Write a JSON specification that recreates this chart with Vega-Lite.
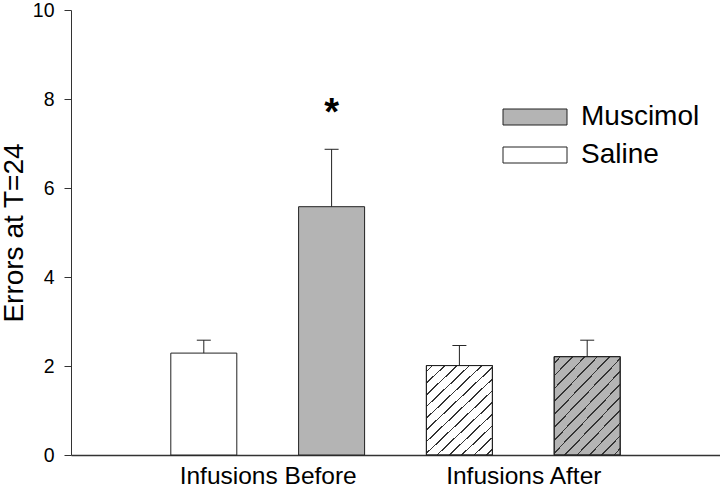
{
  "$schema": "https://vega.github.io/schema/vega-lite/v6.json",
  "width": 649,
  "height": 445,
  "autosize": {"type": "none"},
  "padding": {"left": 71, "top": 10, "right": 0, "bottom": 30},
  "background": "white",
  "config": {
    "view": {"stroke": null},
    "font": "Liberation Sans",
    "axis": {"domainColor": "#333", "tickColor": "#333", "labelColor": "#000", "titleColor": "#000", "grid": false, "labelFont": "Liberation Sans", "titleFont": "Liberation Sans", "titleFontWeight": "normal"}
  },
  "data": {"values": [
    {"group": "Before", "treatment": "Saline", "pos": 1, "mean": 2.29, "err": 2.58},
    {"group": "Before", "treatment": "Muscimol", "pos": 2, "mean": 5.58, "err": 6.87, "sig": "*"},
    {"group": "After", "treatment": "Saline", "pos": 3, "mean": 2.01, "err": 2.46},
    {"group": "After", "treatment": "Muscimol", "pos": 4, "mean": 2.21, "err": 2.58}
  ]},
  "layer": [
    {
      "mark": {"type": "bar", "width": 66, "stroke": "#222", "strokeWidth": 1, "opacity": 1},
      "encoding": {
        "x": {"field": "pos", "type": "quantitative", "scale": {"domain": [0, 5], "nice": false, "zero": false},
          "axis": {"title": null, "values": [1.5, 3.5], "ticks": false, "tickSize": 0, "labelPadding": 9, "labelFontSize": 24.5, "labelExpr": "datum.value < 2.5 ? 'Infusions Before' : 'Infusions After'", "domainWidth": 1.5, "labelFlush": false, "labelOverlap": false}},
        "y": {"field": "mean", "type": "quantitative", "scale": {"domain": [0, 10], "nice": false},
          "axis": {"title": "Errors at T=24", "values": [0, 2, 4, 6, 8, 10], "tickSize": 7, "labelPadding": 10, "labelFontSize": 19.5, "titleFontSize": 28, "titleX": -48.5, "titleY": 222.5, "titleAngle": -90, "titleBaseline": "alphabetic", "titleAlign": "center"}},
        "fill": {"field": "treatment", "type": "nominal", "scale": {"domain": ["Muscimol", "Saline"], "range": ["#b4b4b4", "#ffffff"]},
          "legend": {"title": null, "orient": "none", "legendX": 450, "legendY": 93, "symbolType": "M-3.2,-0.8H3.2V0.8H-3.2Z", "symbolSize": 400, "symbolStrokeColor": "#222", "symbolStrokeWidth": 1, "symbolOpacity": 1, "labelFontSize": 28, "labelLimit": 300, "labelOffset": 32, "rowPadding": 10, "labelFont": "Liberation Sans", "labelColor": "#000"}}
      }
    },
    {
      "transform": [{"filter": "datum.group == 'After'"}],
      "mark": {"type": "bar", "width": 66, "stroke": "#222", "strokeWidth": 1,
        "fill": {"gradient": "linear", "x1": 0, "y1": 0, "x2": 0.799, "y2": 1.141, "stops": [
          {"offset": 0, "color": "rgba(0,0,0,0)"},
          {"offset": 0.03308, "color": "rgba(0,0,0,0)"}, {"offset": 0.03308, "color": "#333"}, {"offset": 0.04385, "color": "#333"}, {"offset": 0.04385, "color": "rgba(0,0,0,0)"},
          {"offset": 0.11, "color": "rgba(0,0,0,0)"}, {"offset": 0.11, "color": "#333"}, {"offset": 0.12077, "color": "#333"}, {"offset": 0.12077, "color": "rgba(0,0,0,0)"},
          {"offset": 0.18692, "color": "rgba(0,0,0,0)"}, {"offset": 0.18692, "color": "#333"}, {"offset": 0.19769, "color": "#333"}, {"offset": 0.19769, "color": "rgba(0,0,0,0)"},
          {"offset": 0.26385, "color": "rgba(0,0,0,0)"}, {"offset": 0.26385, "color": "#333"}, {"offset": 0.27462, "color": "#333"}, {"offset": 0.27462, "color": "rgba(0,0,0,0)"},
          {"offset": 0.34077, "color": "rgba(0,0,0,0)"}, {"offset": 0.34077, "color": "#333"}, {"offset": 0.35154, "color": "#333"}, {"offset": 0.35154, "color": "rgba(0,0,0,0)"},
          {"offset": 0.41769, "color": "rgba(0,0,0,0)"}, {"offset": 0.41769, "color": "#333"}, {"offset": 0.42846, "color": "#333"}, {"offset": 0.42846, "color": "rgba(0,0,0,0)"},
          {"offset": 0.49462, "color": "rgba(0,0,0,0)"}, {"offset": 0.49462, "color": "#333"}, {"offset": 0.50538, "color": "#333"}, {"offset": 0.50538, "color": "rgba(0,0,0,0)"},
          {"offset": 0.57154, "color": "rgba(0,0,0,0)"}, {"offset": 0.57154, "color": "#333"}, {"offset": 0.58231, "color": "#333"}, {"offset": 0.58231, "color": "rgba(0,0,0,0)"},
          {"offset": 0.64846, "color": "rgba(0,0,0,0)"}, {"offset": 0.64846, "color": "#333"}, {"offset": 0.65923, "color": "#333"}, {"offset": 0.65923, "color": "rgba(0,0,0,0)"},
          {"offset": 0.72538, "color": "rgba(0,0,0,0)"}, {"offset": 0.72538, "color": "#333"}, {"offset": 0.73615, "color": "#333"}, {"offset": 0.73615, "color": "rgba(0,0,0,0)"},
          {"offset": 0.80231, "color": "rgba(0,0,0,0)"}, {"offset": 0.80231, "color": "#333"}, {"offset": 0.81308, "color": "#333"}, {"offset": 0.81308, "color": "rgba(0,0,0,0)"},
          {"offset": 0.87923, "color": "rgba(0,0,0,0)"}, {"offset": 0.87923, "color": "#333"}, {"offset": 0.89, "color": "#333"}, {"offset": 0.89, "color": "rgba(0,0,0,0)"},
          {"offset": 0.95615, "color": "rgba(0,0,0,0)"}, {"offset": 0.95615, "color": "#333"}, {"offset": 0.96692, "color": "#333"}, {"offset": 0.96692, "color": "rgba(0,0,0,0)"},
          {"offset": 1, "color": "rgba(0,0,0,0)"}
        ]}},
      "encoding": {
        "x": {"field": "pos", "type": "quantitative"},
        "y": {"field": "mean", "type": "quantitative"}
      }
    },
    {
      "mark": {"type": "rule", "color": "#222", "strokeWidth": 1},
      "encoding": {
        "x": {"field": "pos", "type": "quantitative"},
        "y": {"field": "mean", "type": "quantitative"},
        "y2": {"field": "err"}
      }
    },
    {
      "mark": {"type": "tick", "orient": "horizontal", "size": 14, "thickness": 1, "color": "#222", "opacity": 1},
      "encoding": {
        "x": {"field": "pos", "type": "quantitative"},
        "y": {"field": "err", "type": "quantitative"}
      }
    },
    {
      "transform": [{"filter": "isValid(datum.sig)"}],
      "mark": {"type": "text", "fontSize": 38, "fontWeight": "bold", "baseline": "alphabetic", "align": "center", "dy": -24, "color": "#000", "font": "Liberation Sans"},
      "encoding": {
        "x": {"field": "pos", "type": "quantitative"},
        "y": {"field": "err", "type": "quantitative"},
        "text": {"field": "sig"}
      }
    }
  ]
}
